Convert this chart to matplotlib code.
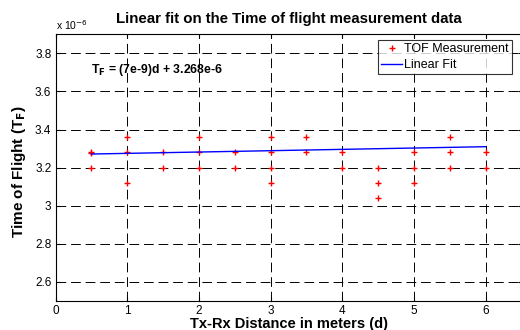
import numpy as np
import matplotlib
matplotlib.use('Agg')
import matplotlib.pyplot as plt

plt.rcParams['font.family'] = ['Liberation Sans', 'DejaVu Sans']

# TOF measurements (units of 1e-6 s) per Tx-Rx distance (m)
dist = [0.5, 0.5, 0.5,
        1, 1, 1,
        1.5, 1.5,
        2, 2, 2,
        2.5, 2.5,
        3, 3, 3, 3,
        3.5, 3.5,
        4, 4,
        4.5, 4.5, 4.5,
        5, 5, 5,
        5.5, 5.5, 5.5,
        6, 6]
tof = [3.28, 3.275, 3.2,
       3.36, 3.28, 3.12,
       3.28, 3.2,
       3.36, 3.28, 3.2,
       3.28, 3.2,
       3.36, 3.28, 3.2, 3.12,
       3.36, 3.28,
       3.28, 3.2,
       3.2, 3.12, 3.04,
       3.28, 3.2, 3.12,
       3.36, 3.28, 3.2,
       3.28, 3.2]

slope = 7e-9
intercept = 3.268e-6
fit_x = np.array([0.5, 6])
fit_y = (slope * fit_x + intercept) * 1e6

fig = plt.figure(figsize=(5.2, 3.3), dpi=100)
ax = fig.add_axes([55.5/520, 29/330, 466/520, 266.7/330])

ax.plot(dist, tof, '+', color='red', markersize=4.5, markeredgewidth=1.0,
        label='TOF Measurement')
ax.plot(fit_x, fit_y, '-', color='blue', linewidth=1.0, label='Linear Fit')

ax.set_xlim(0, 6.5)
ax.set_ylim(2.5, 3.9)
ax.set_xticks(range(0, 7))
ax.set_yticks([2.6, 2.8, 3.0, 3.2, 3.4, 3.6, 3.8])
ax.set_yticklabels(['2.6', '2.8', '3', '3.2', '3.4', '3.6', '3.8'])
ax.tick_params(direction='in', length=3, labelsize=8.5, top=True, right=True, pad=3)
ax.grid(True, color='black', linestyle=(0, (10, 5)), linewidth=0.7)
for s in ax.spines.values():
    s.set_linewidth(0.8)

ax.set_title('Linear fit on the Time of flight measurement data',
             fontsize=10.8, fontweight='bold', pad=8)
ax.set_xlabel('Tx-Rx Distance in meters (d)', fontsize=10.5, fontweight='bold', labelpad=0)
ax.set_ylabel(r'Time of Flight (T$_\mathbf{F}$)', fontsize=11, fontweight='bold')
ax.yaxis.set_label_coords(-0.058, 0.484)

fig.text(56/520, 1 - 25/330, r'x 10$^{-6}$', fontsize=7.5, va='center', ha='left')

ax.text(0.49, 3.71, r'T$_\mathbf{F}$ = (7e-9)d + 3.268e-6', fontsize=8.8,
        fontweight='bold', va='center')

leg = ax.legend(loc='upper right', bbox_to_anchor=(0.9796, 0.9786), fontsize=9,
                frameon=True, fancybox=False, edgecolor='black', borderpad=0.25,
                handlelength=1.7, handletextpad=0.15, labelspacing=0.3,
                borderaxespad=0)
leg.get_frame().set_linewidth(0.8)

fig.savefig('out.png', dpi=100)
